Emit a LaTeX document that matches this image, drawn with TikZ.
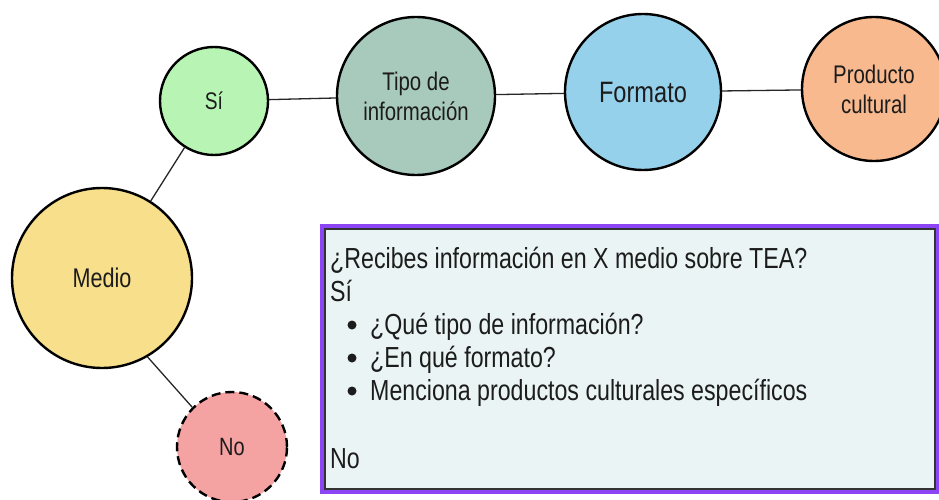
\documentclass[tikz,border=0pt]{standalone}
\usepackage{fontspec}
\setmainfont{Liberation Sans}[FakeStretch=0.8]
\definecolor{txt}{HTML}{1C1C1C}
\definecolor{cSi}{HTML}{B8F5B5}
\definecolor{cTipo}{HTML}{A8CABC}
\definecolor{cFormato}{HTML}{96D1EC}
\definecolor{cProd}{HTML}{F9B98E}
\definecolor{cMedio}{HTML}{F7DF8C}
\definecolor{cNo}{HTML}{F5A2A2}
\definecolor{cBox}{HTML}{EAF4F4}
\definecolor{cPurple}{HTML}{8B45F5}
\begin{document}
\begin{tikzpicture}[x=1pt,y=-1pt,
  bub/.style={circle,draw=black,line width=2.4pt,inner sep=0pt,align=center,text=txt,font=\fontsize{27}{30}\selectfont},
  link/.style={draw=black!85,line width=1.3pt},
  boxtxt/.style={anchor=base west,inner sep=0pt,text=txt,font=\fontsize{29}{32}\selectfont},
  bul/.style={circle,fill=txt,inner sep=0pt,minimum size=9pt}]
\useasboundingbox (0,0) rectangle (939,500);
% box
\fill[cBox] (322,226) rectangle (938,492);
\draw[cPurple,line width=4pt] (322,226) rectangle (938,492);
\draw[black!80,line width=1.2pt] (325,229) rectangle (935,489);
% circles
\node[bub,fill=cSi,minimum size=108pt,font=\fontsize{24}{28}\selectfont] (si) at (214,101) {Sí};
\node[bub,fill=cTipo,minimum size=158pt,font=\fontsize{25.5}{30}\selectfont] (tipo) at (416,96) {Tipo de\\información};
\node[bub,fill=cFormato,minimum size=156pt,font=\fontsize{29.5}{32}\selectfont] (formato) at (643,92) {Formato};
\node[bub,fill=cProd,minimum size=144pt,font=\fontsize{25.5}{30}\selectfont] (prod) at (874,89) {Producto\\cultural};
\node[bub,fill=cMedio,minimum size=180pt] (medio) at (102,278) {Medio};
\node[bub,fill=cNo,minimum size=110pt,dashed,dash pattern=on 9pt off 5pt,font=\fontsize{25}{28}\selectfont] (no) at (232,447) {No};
% connectors
\draw[link] (medio) -- (si);
\draw[link] (si) -- (tipo);
\draw[link] (tipo) -- (formato);
\draw[link] (formato) -- (prod);
\draw[link] (medio.-60) -- (no.135);
% box text
\node[boxtxt] (q) at (330,268) {¿Recibes información en X medio sobre TEA?};
\node[boxtxt] (ysi) at (330,301) {Sí};
\node[bul] (b1) at (352,325) {};
\node[boxtxt] (t1) at (370,334) {¿Qué tipo de información?};
\node[bul] (b2) at (352,358) {};
\node[boxtxt] (t2) at (370,367) {¿En qué formato?};
\node[bul] (b3) at (352,391) {};
\node[boxtxt] (t3) at (370,400) {Menciona productos culturales específicos};
\node[boxtxt] (yno) at (330,468) {No};
\end{tikzpicture}
\end{document}
